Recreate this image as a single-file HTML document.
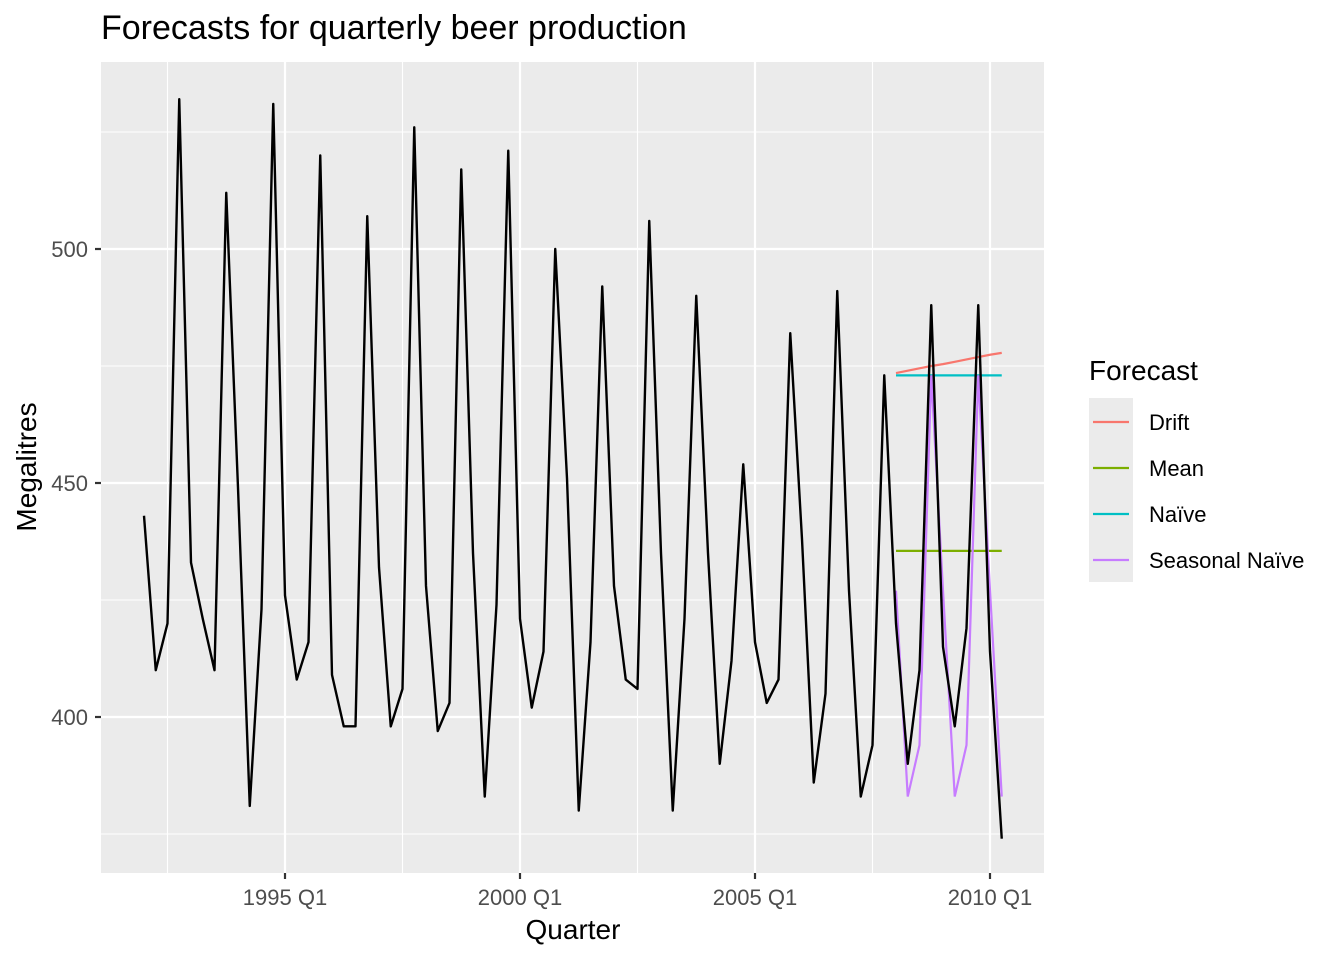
<!DOCTYPE html>
<html><head><meta charset="utf-8"><style>
body{margin:0;background:#fff;font-family:"Liberation Sans",Arial,sans-serif}
</style></head><body>
<svg id="chart" width="1344" height="960" font-family="Liberation Sans, Arial, sans-serif">
<text x="101" y="39" font-size="34" fill="#000">Forecasts for quarterly beer production</text>
<rect x="101" y="62" width="943" height="811" fill="#ebebeb"/>
<g id="grid"></g>
<g id="series"></g>
<g id="axes"></g>
<text x="573" y="939" font-size="28" text-anchor="middle">Quarter</text>
<text transform="translate(36,467) rotate(-90)" font-size="28" text-anchor="middle">Megalitres</text>
<g>
<text x="1089" y="380" font-size="28">Forecast</text>
<rect x="1089" y="398" width="44" height="184" fill="#ebebeb"/>
<g id="legend"></g>
</g>
</svg>
<script>
const observed = [443,410,420,532,433,421,410,512,449,381,423,531,426,408,416,520,409,398,398,507,432,398,406,526,428,397,403,517,435,383,424,521,421,402,414,500,451,380,416,492,428,408,406,506,435,380,421,490,435,390,412,454,416,403,408,482,438,386,405,491,427,383,394,473,420,390,410,488,415,398,419,488,414,374];
const seriesNames = ["Drift","Mean","Naïve","Seasonal Naïve"];
const seriesColors = ["#F8766D","#7CAE00","#00BFC4","#C77CFF"];
const driftFc = [473.5,474.0,474.5,475.0,475.4,475.9,476.4,476.9,477.4,477.8];
const meanFc = [435.5,435.5,435.5,435.5,435.5,435.5,435.5,435.5,435.5,435.5];
const naiveFc = [473,473,473,473,473,473,473,473,473,473];
const snaiveFc = [427,383,394,473,427,383,394,473,427,383];
const fcStart = 64;
const yTicks = [400,450,500];
const yMinor = [375,425,475,525];
const xTickLabels = ["1995 Q1","2000 Q1","2005 Q1","2010 Q1"];
const xTickIdx = [12,32,52,72];
const xMinorIdx = [2,22,42,62];

const NS="http://www.w3.org/2000/svg";
const X = i => 144 + i*11.75;
const Y = v => 717 - (v-400)*4.68;
function mk(tag, attrs, parent){const e=document.createElementNS(NS,tag);for(const k in attrs)e.setAttribute(k,attrs[k]);parent.appendChild(e);return e;}
const grid=document.getElementById('grid'), series=document.getElementById('series'), axes=document.getElementById('axes'), legend=document.getElementById('legend');
yMinor.forEach(v=>{const l=mk('line',{x1:101,x2:1044,y1:Y(v),y2:Y(v),stroke:'#fff','stroke-width':1.1},grid);

});
xMinorIdx.forEach(i=>{const l=mk('line',{x1:X(i),x2:X(i),y1:62,y2:873,stroke:'#fff','stroke-width':1.1},grid);

});
yTicks.forEach(v=>{const l=mk('line',{x1:101,x2:1044,y1:Y(v),y2:Y(v),stroke:'#fff','stroke-width':2.2},grid);


const t=mk('line',{x1:95,x2:101,y1:Y(v),y2:Y(v),stroke:'#333','stroke-width':2.2},axes);


const tx=mk('text',{x:88,y:Y(v)+8,'font-size':22,'text-anchor':'end',fill:'#4d4d4d'},axes);tx.textContent=v;

});
xTickIdx.forEach((i,k)=>{const l=mk('line',{x1:X(i),x2:X(i),y1:62,y2:873,stroke:'#fff','stroke-width':2.2},grid);


const t=mk('line',{x1:X(i),x2:X(i),y1:873,y2:879,stroke:'#333','stroke-width':2.2},axes);


const tx=mk('text',{x:X(i),y:905,'font-size':22,'text-anchor':'middle',fill:'#4d4d4d'},axes);tx.textContent=xTickLabels[k];

});
const fcs=[driftFc,meanFc,naiveFc,snaiveFc];
fcs.forEach((arr,s)=>{const p=mk('polyline',{points:arr.map((v,j)=>X(fcStart+j)+','+Y(v)).join(' '),fill:'none',stroke:seriesColors[s],'stroke-width':2.2},series);

});
const ob=mk('polyline',{points:observed.map((v,i)=>X(i)+','+Y(v)).join(' '),fill:'none',stroke:'#000','stroke-width':2.4,'stroke-linejoin':'round'},series);


seriesNames.forEach((n,s)=>{const y=422+s*46;
const l=mk('line',{x1:1093,x2:1129,y1:y,y2:y,stroke:seriesColors[s],'stroke-width':2.2},legend);


const t=mk('text',{x:1149,y:y+8,'font-size':22,fill:'#000'},legend);t.textContent=n;

});
</script>
</body></html>
